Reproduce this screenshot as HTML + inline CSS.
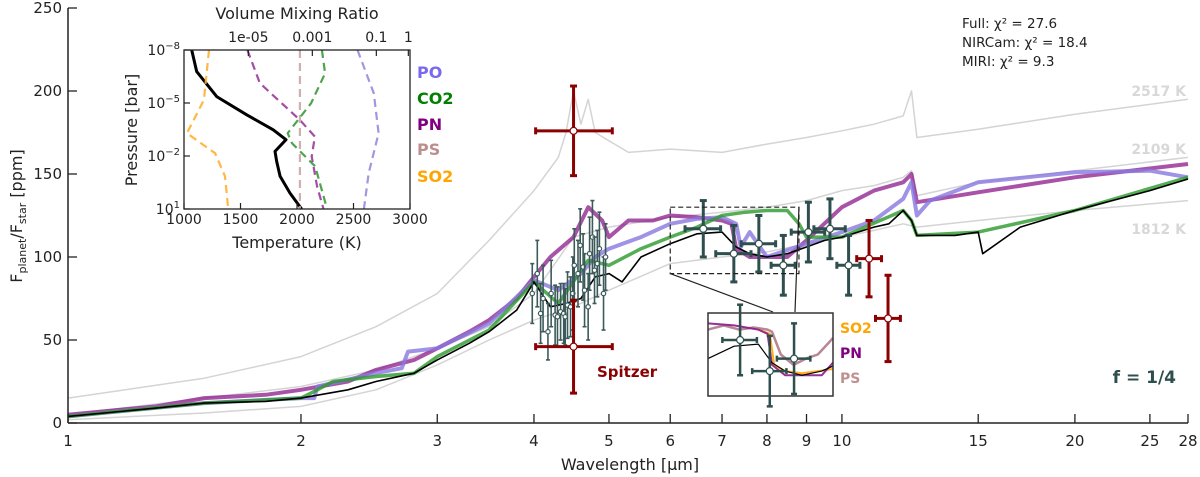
<!DOCTYPE html>
<html><head><meta charset="utf-8"><style>
html,body{margin:0;padding:0;background:#fff;width:1200px;height:477px;overflow:hidden;}
svg{display:block;font-family:"DejaVu Sans","Liberation Sans",sans-serif;}
</style></head><body>
<svg id="chart" width="1200" height="477" viewBox="0 0 1200 477" xmlns="http://www.w3.org/2000/svg">
<g id="main"></g>
</svg>
<script>
// ===== Main spectrum data =====
const xTicks = [1,2,3,4,5,6,7,8,9,10,15,20,25,28];
const yTicks = [0,50,100,150,200,250];
const gray2517W = [1,1.5,2,2.5,3,3.5,4,4.3,4.4,4.5,4.6,4.7,4.8,5,5.3,6,7,8,9,10,11,12,12.3,12.5,15,20,28];
const gray2517V = [15,27,40,58,78,110,140,160,175,200,180,195,175,170,163,165,163,168,172,176,180,185,200,172,177,186,195];
const gray2109W = [1,1.5,2,2.5,3,3.5,4,4.5,5,6,7,8,9,10,11,12,12.3,12.5,15,20,28];
const gray2109V = [5,15,22,32,45,58,78,112,118,124,127,130,134,140,143,148,152,137,145,152,160];
const gray1812W = [1,1.5,2,2.5,3,3.5,4,4.5,5,6,7,8,9,10,11,12,12.5,15,20,28];
const gray1812V = [2,6,10,20,35,50,62,70,80,96,100,103,108,112,116,120,118,122,128,134];
const blackW = [1,1.3,1.5,1.8,2,2.3,2.5,2.8,3,3.3,3.5,3.8,4,4.2,4.4,4.6,4.8,5,5.2,5.5,6,6.5,7,7.3,7.6,8,8.5,9,9.5,10,11,11.5,12,12.3,12.5,14,15,15.2,17,20,25,28];
const blackV = [4,9,12,13,15,20,25,30,38,48,55,68,85,70,72,75,88,90,85,100,108,114,115,106,102,100,102,106,110,112,118,120,128,122,113,113,115,102,118,128,140,147];
const pnW = [1,1.3,1.5,1.8,2,2.3,2.5,2.8,3,3.3,3.5,3.8,4,4.2,4.5,4.7,4.9,5,5.3,5.7,6,6.5,7,7.2,7.3,7.6,8,8.5,9,10,11,12,12.3,12.5,15,20,28];
const pnV = [5,10,15,17,20,25,32,38,45,55,62,75,88,100,112,130,122,112,122,122,125,124,122,120,105,100,100,100,110,130,140,145,150,133,139,148,156];
const poW = [1,1.5,2,2.08,2.1,2.5,2.7,2.75,3,3.5,4,4.3,4.6,4.8,5,5.5,6,6.5,7,7.3,7.4,7.6,8,9,10,11,12,12.3,12.5,13,15,20,25,28];
const poV = [4,12,15,15,22,30,33,43,45,60,86,80,90,100,105,112,120,123,124,120,106,115,100,108,115,122,135,145,125,134,145,151,152,148];
const co2W = [1,1.5,2,2.1,2.2,2.5,2.8,3,3.5,4,4.3,4.7,5,5.5,6,6.5,7,7.5,8,8.5,8.8,9,10,12,12.3,12.5,15,20,28];
const co2V = [4,12,15,20,25,28,30,40,56,85,72,98,95,105,112,118,125,127,128,128,120,112,112,128,122,113,115,128,148];
// NIRCam points
const nircamW = [3.98,4.04,4.08,4.11,4.17,4.21,4.26,4.29,4.33,4.37,4.39,4.42,4.46,4.49,4.51,4.56,4.59,4.63,4.65,4.70,4.72,4.76,4.79,4.83,4.86,4.92,4.95];
const nircamV = [78,90,66,75,55,78,65,64,67,66,64,71,70,78,95,90,107,94,80,70,102,112,92,96,105,78,100];
const nircamE = [18,20,18,20,17,20,18,18,17,18,17,20,18,22,22,20,22,20,22,20,22,22,20,20,22,22,20];
// MIRI points
const miriW = [6.62,7.25,7.81,8.4,9.05,9.65,10.2];
const miriV = [117,102,108,95,115,117,95];
const miriE = [17,17,17,18,18,18,18];
const miriXE = [0.35,0.38,0.4,0.3,0.45,0.45,0.35];
// Spitzer points
const spitzerW = [4.5,4.5,10.84,11.47];
const spitzerV = [176,46,99,63];
const spitzerE = [27,28,23,26];
const spitzerXL = [4.02,4.02,10.45,11.05];
const spitzerXH = [5.05,5.05,11.25,11.9];
// Zoom-panel-only series
const psW = [6.0,6.3,6.6,6.9,7.2,7.3,7.5,7.8,8.1,8.4,8.7,8.8];
const psV = [122,124,122,123,122,121,110,105,108,110,116,118];
const so2W = [7.0,7.25,7.35,7.6,8.0,8.4,8.8];
const so2V = [122,120,105,102,101,102,103];
// ===== Inset data =====
const tempTicks = [1000,1500,2000,2500,3000];
const presTicks = [-8,-5,-2,1];
const vmrTicks = ["1e-05","0.001","0.1","1"];
const vmrTickVals = [-5,-3,-1,0];
const tpLogP = [-8,-6.78,-5.36,-4.33,-3.48,-2.92,-2.26,-1.69,-0.85,0.1,1];
const tpT = [1068,1112,1289,1555,1791,1903,1805,1820,1850,1938,2041];
const so2LogP = [-8,-5.17,-3.29,-2.16,-0.85,1];
const so2Vmr = [-6.23,-6.39,-6.92,-6.04,-5.73,-5.63];
const pnLogP = [-8,-6.12,-4.04,-3.10,-1.97,-0.28,1];
const pnVmr = [-5.03,-4.64,-3.39,-2.92,-3.02,-2.85,-2.65];
const psLogP = [-8,1];
const psVmr = [-3.39,-3.39];
const co2LogP = [-8,-6.68,-4.99,-3.29,-2.73,-1.41,1];
const co2Vmr = [-2.70,-2.6,-3.04,-3.77,-3.64,-2.91,-2.54];
const poLogP = [-8,-5.55,-3.29,-1.03,1];
const poVmr = [-1.59,-1.08,-0.93,-1.24,-1.39];

const NS="http://www.w3.org/2000/svg";
const root=document.getElementById('main');
function mk(tag,attrs,parent){const e=document.createElementNS(NS,tag);for(const k in attrs)e.setAttribute(k,attrs[k]);(parent||root).appendChild(e);return e;}
function txt(s,attrs,parent){const e=mk('text',attrs,parent);e.textContent=s;return e;}

const X0=68,X1=1188,Y0=423,Y1=8;
const xs=w=>X0+Math.log(w)/Math.log(28)*(X1-X0);
const ys=v=>Y0-v/250*(Y0-Y1);
function line(W,V,color,width,op,name,fx,fy,parent){
  const p=mk('polyline',{points:W.map((w,i)=>(fx||xs)(w).toFixed(1)+','+(fy||ys)(V[i]).toFixed(1)).join(' '),fill:'none',stroke:color,'stroke-width':width,'stroke-opacity':op,'stroke-linejoin':'round'},parent);
  
  
  return p;
}
line(gray2517W,gray2517V,'#d4d4d4',1.5,1,'model-2517k');
line(gray2109W,gray2109V,'#d4d4d4',1.5,1,'model-2109k');
line(gray1812W,gray1812V,'#d4d4d4',1.5,1,'model-1812k');
line(pnW,pnV,'#8b1a8b',4,0.75,'model-pn');
line(poW,poV,'#8878e0',4,0.8,'model-po');
line(co2W,co2V,'#2a9a2a',3.5,0.8,'model-co2');
line(blackW,blackV,'#000',1.6,1,'model-best-fit');

const ax=mk('g',{});


mk('line',{x1:X0,y1:Y0,x2:X1,y2:Y0,stroke:'#222','stroke-width':1.5},ax);
mk('line',{x1:X0,y1:Y0,x2:X0,y2:Y1,stroke:'#222','stroke-width':1.5},ax);
xTicks.forEach(t=>{const x=xs(t);mk('line',{x1:x,y1:Y0,x2:x,y2:Y0-9,stroke:'#222','stroke-width':1.3},ax);
 const l=txt(String(t),{x:x,y:446,'text-anchor':'middle','font-size':15,fill:'#222'},ax);
 
 });
yTicks.forEach(t=>{const y=ys(t);mk('line',{x1:X0,y1:y,x2:X0+9,y2:y,stroke:'#222','stroke-width':1.3},ax);
 const l=txt(String(t),{x:X0-6,y:y+5,'text-anchor':'end','font-size':15,fill:'#222'},ax);
 
 });
const xl=txt('Wavelength [μm]',{x:630,y:470,'text-anchor':'middle','font-size':16,fill:'#222'});


const yl=mk('text',{transform:'translate(22,216) rotate(-90)','text-anchor':'middle','font-size':16,fill:'#222'});
yl.innerHTML='F<tspan font-size="11" dy="4">planet</tspan><tspan dy="-4">/F</tspan><tspan font-size="11" dy="4">star</tspan><tspan dy="-4"> [ppm]</tspan>';



function errbar(x,y,xl,xh,yl2,yh,color,lw,cap,name){
  const g=mk('g',{});
  
  
  mk('line',{x1:x,y1:yl2,x2:x,y2:yh,stroke:color,'stroke-width':lw},g);
  mk('line',{x1:xl,y1:y,x2:xh,y2:y,stroke:color,'stroke-width':lw},g);
  mk('line',{x1:x-cap,y1:yl2,x2:x+cap,y2:yl2,stroke:color,'stroke-width':lw},g);
  mk('line',{x1:x-cap,y1:yh,x2:x+cap,y2:yh,stroke:color,'stroke-width':lw},g);
  if(xh-xl>4){mk('line',{x1:xl,y1:y-cap,x2:xl,y2:y+cap,stroke:color,'stroke-width':lw},g);
  mk('line',{x1:xh,y1:y-cap,x2:xh,y2:y+cap,stroke:color,'stroke-width':lw},g);}
  mk('circle',{cx:x,cy:y,r:lw>2?3.5:2.2,fill:'#fff',stroke:color,'stroke-width':1.2},g);
}
nircamW.forEach((w,i)=>errbar(xs(w),ys(nircamV[i]),xs(w),xs(w),ys(nircamV[i]-nircamE[i]),ys(nircamV[i]+nircamE[i]),'#3d5a5a',1.6,2,'nircam-point'));
miriW.forEach((w,i)=>errbar(xs(w),ys(miriV[i]),xs(w-miriXE[i]),xs(w+miriXE[i]),ys(miriV[i]-miriE[i]),ys(miriV[i]+miriE[i]),'#2f4f4f',3,3.5,'miri-point'));
spitzerW.forEach((w,i)=>errbar(xs(w),ys(spitzerV[i]),xs(spitzerXL[i]),xs(spitzerXH[i]),ys(spitzerV[i]-spitzerE[i]),ys(spitzerV[i]+spitzerE[i]),'#8b0000',3,3.5,'spitzer-point'));

const zb=mk('rect',{x:xs(6.0),y:ys(130),width:xs(8.8)-xs(6.0),height:ys(90)-ys(130),fill:'none',stroke:'#222','stroke-width':1.2,'stroke-dasharray':'5,3'});


mk('line',{x1:xs(8.8),y1:ys(130),x2:795,y2:312,stroke:'#222','stroke-width':1.2});
mk('line',{x1:xs(6.0),y1:ys(90),x2:773,y2:312,stroke:'#222','stroke-width':1.2});
const zp=mk('g',{});


const PX0=708,PX1=833,PY0=313,PY1=396;
const zx=w=>PX0+(Math.log(w)-Math.log(6.0))/(Math.log(8.8)-Math.log(6.0))*(PX1-PX0);
const zy=v=>PY1-(v-90)/(130-90)*(PY1-PY0);
mk('rect',{x:PX0,y:PY0,width:PX1-PX0,height:PY1-PY0,fill:'#fff'},zp);
const clip=mk('clipPath',{id:'zc'});mk('rect',{x:PX0,y:PY0,width:PX1-PX0,height:PY1-PY0},clip);
const zg=mk('g',{'clip-path':'url(#zc)'},zp);
line(psW,psV,'#b07a8a',2.5,0.9,'zoom-ps',zx,zy,zg);
line(so2W,so2V,'#ffa500',2,0.9,'zoom-so2',zx,zy,zg);
line(pnW,pnV,'#8b1a8b',2,0.9,'zoom-pn',zx,zy,zg);
line(blackW,blackV,'#000',1.2,1,'zoom-best-fit',zx,zy,zg);
[0,1,2].forEach(i=>errbar(zx(miriW[i]),zy(miriV[i]),zx(miriW[i]-miriXE[i]),zx(miriW[i]+miriXE[i]),zy(miriV[i]-miriE[i]),zy(miriV[i]+miriE[i]),'#2f4f4f',2.5,3,'zoom-miri-point'));
mk('rect',{x:PX0,y:PY0,width:PX1-PX0,height:PY1-PY0,fill:'none',stroke:'#333','stroke-width':1.5},zp);
[['SO2','#ffa500',333],['PN','#800080',358],['PS','#c09090',383]].forEach(a=>{const t=txt(a[0],{x:840,y:a[2],'font-size':14,'font-weight':'bold',fill:a[1]});

});

[['Full: χ² = 27.6',24],['NIRCam: χ² = 18.4',43],['MIRI: χ² = 9.3',62]].forEach(a=>{const t=txt(a[0],{x:962,y:a[1]+4,'font-size':13.5,fill:'#222'});

});
[['2517 K',96],['2109 K',154],['1812 K',234]].forEach(a=>{const t=txt(a[0],{x:1186,y:a[1],'text-anchor':'end','font-size':14,'font-weight':'bold',fill:'#d8d8d8'});

});
const f=txt('f = 1/4',{x:1176,y:383,'text-anchor':'end','font-size':17,'font-weight':'bold',fill:'#2f4f4f'});


const sp=txt('Spitzer',{x:597,y:377,'font-size':15,'font-weight':'bold',fill:'#8b0000'});



// ===== Inset =====
const ins=mk('g',{});


mk('rect',{x:120,y:0,width:350,height:250,fill:'#fff'},ins);
const IX0=184,IX1=410,IY0=50,IY1=209;
const tx=t=>IX0+(t-1000)/2000*(IX1-IX0);
const py=lp=>IY0+(lp+8)/9*(IY1-IY0);
const vx=lv=>IX0+(565-372)/3+(lv+5)*32;
line(tpT,tpLogP,'#000',3,1,'tp-profile',tx,py,ins);
line(so2Vmr,so2LogP,'#ffb030',2.2,0.9,'vmr-so2',vx,py,ins).setAttribute('stroke-dasharray','8,5');
line(pnVmr,pnLogP,'#9a3a9a',2.2,0.9,'vmr-pn',vx,py,ins).setAttribute('stroke-dasharray','8,5');
line(psVmr,psLogP,'#c8a8a8',2.2,0.9,'vmr-ps',vx,py,ins).setAttribute('stroke-dasharray','8,5');
line(co2Vmr,co2LogP,'#3a9a3a',2.2,0.9,'vmr-co2',vx,py,ins).setAttribute('stroke-dasharray','8,5');
line(poVmr,poLogP,'#9a8ae0',2.2,0.9,'vmr-po',vx,py,ins).setAttribute('stroke-dasharray','8,5');
mk('rect',{x:IX0,y:IY0,width:IX1-IX0,height:IY1-IY0,fill:'none',stroke:'#222','stroke-width':1.3},ins);
tempTicks.forEach(t=>{mk('line',{x1:tx(t),y1:IY1,x2:tx(t),y2:IY1-6,stroke:'#222','stroke-width':1.2},ins);
 const l=txt(String(t),{x:tx(t),y:IY1+15,'text-anchor':'middle','font-size':14,fill:'#222'},ins);
 
 });
presTicks.forEach(p=>{mk('line',{x1:IX0,y1:py(p),x2:IX0+6,y2:py(p),stroke:'#222','stroke-width':1.2},ins);
 const l=mk('text',{x:IX0-4,y:py(p)+5,'text-anchor':'end','font-size':14,fill:'#222'},ins);
 l.innerHTML='10<tspan font-size="10" dy="-6">'+(p<0?'−'+(-p):p)+'</tspan>';
 
 });
vmrTicks.forEach((s,i)=>{const x=vx(vmrTickVals[i]);mk('line',{x1:x,y1:IY0,x2:x,y2:IY0+6,stroke:'#222','stroke-width':1.2},ins);
 const l=txt(s,{x:x,y:IY0-8,'text-anchor':'middle','font-size':14,fill:'#222'},ins);
 
 });
const vt=txt('Volume Mixing Ratio',{x:297,y:19,'text-anchor':'middle','font-size':16,fill:'#222'},ins);


const tt=txt('Temperature (K)',{x:297,y:248,'text-anchor':'middle','font-size':16,fill:'#222'},ins);


const pt=txt('Pressure [bar]',{transform:'translate(137,130) rotate(-90)','text-anchor':'middle','font-size':16,fill:'#222'},ins);


[['PO','#7b68ee',78],['CO2','#008000',104],['PN','#800080',130],['PS','#bc8f8f',155],['SO2','#ffa500',182]].forEach(a=>{const t=txt(a[0],{x:417,y:a[2],'font-size':16,'font-weight':'bold',fill:a[1]},ins);

});
</script>
</body></html>
